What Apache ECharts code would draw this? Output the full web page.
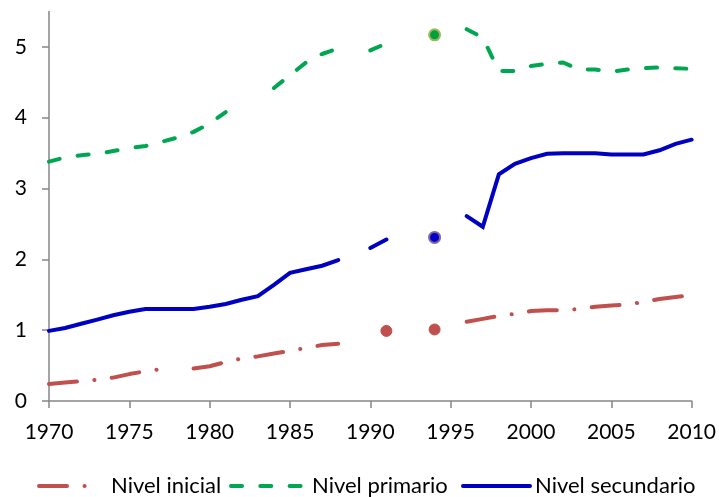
<!DOCTYPE html>
<html>
<head>
<meta charset="utf-8">
<script src="https://cdn.jsdelivr.net/npm/echarts@6/dist/echarts.min.js"></script>
<style>
html,body{margin:0;padding:0;background:#fff;}
#chart{width:719px;height:497px;}
</style>
</head>
<body>
<div id="chart"></div>
<script>
const years = [1970,1971,1972,1973,1974,1975,1976,1977,1978,1979,1980,1981,1982,1983,1984,1985,1986,1987,1988,1989,1990,1991,1992,1993,1994,1995,1996,1997,1998,1999,2000,2001,2002,2003,2004,2005,2006,2007,2008,2009,2010];
const inicial = [0.24,0.26,0.28,0.30,0.33,0.38,0.42,0.45,null,0.46,0.49,0.55,0.60,0.63,0.67,0.71,0.75,0.79,0.81,null,null,0.99,null,null,1.01,null,1.12,1.16,1.20,1.23,1.27,1.28,1.28,1.30,1.33,1.35,1.36,1.40,1.44,1.47,1.49];
const primario = [3.38,3.44,3.47,3.49,3.53,3.57,3.60,3.66,3.72,3.80,3.92,4.08,null,null,4.42,4.60,4.78,4.90,4.98,null,4.95,5.05,null,null,5.17,null,5.25,5.13,4.66,4.66,4.73,4.76,4.78,4.68,4.68,4.65,4.68,4.70,4.71,4.70,4.69];
const secundario = [0.99,1.03,1.09,1.15,1.21,1.26,1.30,1.30,1.30,1.30,1.33,1.37,1.43,1.48,1.64,1.81,1.86,1.91,1.99,null,2.16,2.28,null,null,2.31,null,2.61,2.46,3.20,3.35,3.43,3.49,3.50,3.50,3.50,3.48,3.48,3.48,3.54,3.63,3.69];
const seriesNames = ['Nivel inicial','Nivel primario','Nivel secundario'];
const xTicks = [1970,1975,1980,1985,1990,1995,2000,2005,2010];
const yTicks = [0,1,2,3,4,5];

const FONT = 'Lato';

function buildData(vals, markerStyle) {
  return years.map((y, i) => {
    const v = vals[i];
    if (v === null) return [y, null];
    const prev = i > 0 ? vals[i-1] : null;
    const next = i < vals.length - 1 ? vals[i+1] : null;
    if (prev === null && next === null) {
      return {value: [y, v], symbol: 'circle', symbolSize: 11, itemStyle: markerStyle};
    }
    return [y, v];
  });
}

const chart = echarts.init(document.getElementById('chart'), null, {renderer: 'canvas'});
const legendText = {color: '#000', fontSize: 22, fontFamily: FONT};
const option = {
  animation: false,
  backgroundColor: '#ffffff',
  textStyle: {fontFamily: FONT},
  grid: {left: 49, right: 24, top: 11.5, bottom: 96, containLabel: false},
  xAxis: {
    type: 'value', min: 1970, max: 2010, interval: 5,
    axisLine: {show: true, lineStyle: {color: '#868686', width: 1.5}},
    axisTick: {show: true, length: 7, lineStyle: {color: '#868686', width: 1.5}, customValues: xTicks},
    axisLabel: {color: '#000', fontSize: 21, fontFamily: FONT, margin: 21, customValues: xTicks, formatter: v => String(v)},
    splitLine: {show: false}
  },
  yAxis: {
    type: 'value', min: 0, max: 5.5, interval: 1,
    axisLine: {show: true, lineStyle: {color: '#868686', width: 1.5}},
    axisTick: {show: true, length: 7, lineStyle: {color: '#868686', width: 1.5}, customValues: yTicks},
    axisLabel: {color: '#000', fontSize: 21, fontFamily: FONT, margin: 22, customValues: yTicks},
    splitLine: {show: false}
  },
  legend: [
    {data: [seriesNames[0]], left: 32, top: 470, itemWidth: 51, itemHeight: 14,
     itemStyle: {opacity: 0}, lineStyle: {width: 4, cap: 'round'},
     textStyle: Object.assign({padding: [0,0,0,16]}, legendText)},
    {data: [seriesNames[1]], left: 224, top: 470, itemWidth: 76, itemHeight: 14,
     itemStyle: {opacity: 0}, lineStyle: {width: 4, cap: 'round'}, textStyle: legendText},
    {data: [seriesNames[2]], left: 456, top: 470, itemWidth: 67, itemHeight: 14,
     itemStyle: {opacity: 0}, lineStyle: {width: 4}, textStyle: legendText}
  ],
  series: [
    {
      name: seriesNames[0], type: 'line', symbol: 'none', showSymbol: true, connectNulls: false,
      color: '#C0504D',
      lineStyle: {color: '#C0504D', width: 4, type: [28, 17.5, 0.1, 17.4], cap: 'round'},
      data: buildData(inicial, {color: '#C0504D', borderColor: '#C0504D', borderWidth: 1})
    },
    {
      name: seriesNames[1], type: 'line', symbol: 'none', showSymbol: true, connectNulls: false,
      color: '#00A651',
      lineStyle: {color: '#00A651', width: 4, type: [11, 18.3], cap: 'round'},
      data: buildData(primario, {color: '#00A040', borderColor: '#9BBB59', borderWidth: 2})
    },
    {
      name: seriesNames[2], type: 'line', symbol: 'none', showSymbol: true, connectNulls: false,
      color: '#0000C0',
      lineStyle: {color: '#0000C0', width: 4, type: 'solid', cap: 'round', join: 'miter'},
      data: buildData(secundario, {color: '#0000C8', borderColor: '#8064A2', borderWidth: 2})
    }
  ]
};
chart.setOption(option);
</script>
</body>
</html>
